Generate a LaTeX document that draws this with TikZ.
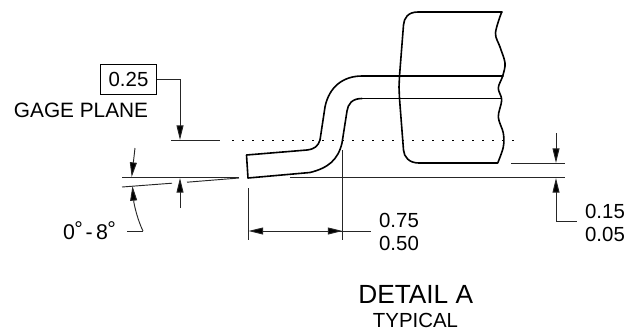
\documentclass[tikz,border=0pt]{standalone}
\usepackage{fontspec}
\setmainfont{Liberation Sans}
\usetikzlibrary{arrows.meta}
\tikzset{
  px/.style={x=0.75pt,y=-0.75pt},
  outline/.style={line width=1.2pt,line join=round,line cap=round,black},
  thin line/.style={line width=0.7pt,black!85},
  dim/.style={thin line,-{Triangle[length=11pt,width=5.2pt,fill=black]}},
  label/.style={inner sep=0pt,font=\fontsize{15.3pt}{15.3pt}\selectfont,text=black}
}
\newcommand{\degmark}{\kern-0.03em\raisebox{0.13em}{°}\kern-0.03em}
\begin{document}
\begin{tikzpicture}[px]
\useasboundingbox (0,0) rectangle (635,333);
% labels
\node[label,draw=black,line width=0.6pt,minimum width=42pt,minimum height=22.5pt] (box) at (128.5,79.5) {0.25};
\node[label,font=\fontsize{15.6pt}{15.6pt}\selectfont] (gage) at (81,110) {GAGE PLANE};
\node[label,font=\fontsize{16pt}{16pt}\selectfont,anchor=east] (angle) at (115.5,231) {0\degmark\kern0.16em-\kern0.16em8\degmark};
\node[label] (d75) at (399,220) {0.75};
\node[label] (d50) at (399,243) {0.50};
\node[label] (d15) at (605,211) {0.15};
\node[label] (d05) at (605,234) {0.05};
\node[label,font=\fontsize{19.7pt}{19.7pt}\selectfont] (detail) at (415.7,294.5) {DETAIL A};
\node[label] (typical) at (415.5,320.5) {TYPICAL};
% named points
\coordinate (gageL) at (171,140);
\coordinate (gageR) at (220,140);
\coordinate (gageTip) at (180,140);
\coordinate (gageElbow) at (180,79);
\coordinate (gageStart) at (157,79);
\coordinate (h1L) at (122,177.5);
\coordinate (h1R) at (239,177.5);
\coordinate (h2L) at (290,177.5);
\coordinate (h2R) at (565,177.5);
\coordinate (h3L) at (511,163);
\coordinate (h3R) at (565,163);
% gage plane
\draw[thin line] (box.east |- gageStart) -- (gageElbow);
\draw[dim] (gageElbow) -- (gageTip);
\draw[thin line] (gageL) -- (gageR);
\draw[line width=0.6pt,dash pattern=on 1.2pt off 6.3pt] (232,140) -- (516,140);
% angle
\draw[thin line] (h1L) -- (h1R);
\draw[thin line] (122,187) -- (172,183.2);
\draw[thin line] (187,182.2) -- (239,178);
\draw[dim] (135,148) -- (131.7,177);
\draw[dim] (143,231) .. controls (138,221) and (134,205) .. (132.5,186);
\draw[thin line] (143,231) -- (127,231);
\draw[dim] (180,208) -- (180,178);
% lead
\draw[outline] (320,140) -- (325,107) .. controls (329,87) and (343,76) .. (362,76) -- (503,76);
\draw[outline] (362,98.5) -- (501,98.5);
\draw[outline] (362,98.5) .. controls (352,98.5) and (348,104) .. (347,111) -- (342,143) .. controls (338,160) and (328,168) .. (310,172.5) -- (248,178) -- (246.5,155) -- (307,150) .. controls (315,149) and (318,146) .. (320,140);
% body
\draw[outline] (502,12) -- (418,12) .. controls (408,12) and (404,18) .. (403.5,25) -- (399.5,76) -- (399,87) -- (399.5,98.5) -- (403.5,150) .. controls (404,157) and (409,163) .. (419,163) -- (497.5,163);
\draw[outline] plot[smooth,tension=0.55] coordinates {(501.7,12)(495.5,33)(500,47)(505,63)(502.7,76)(498.3,88)(501.7,100)(498.3,117)(503.3,133)(503.3,147)(497.7,163)};
% right dim
\draw[thin line] (h3L) -- (h3R);
\draw[thin line] (h2L) -- (h2R);
\draw[dim] (556,133) -- (556,163);
\draw[dim] (556,221) -- (556,178);
\draw[thin line] (556,221) -- (577,221);
% width dim
\coordinate (vL) at (248,188);
\coordinate (vM) at (342.5,150);
\draw[thin line] (vL) -- (248,240);
\draw[thin line] (vM) -- (342.5,240);
\draw[thin line] (290,231) -- (371,231);
\draw[dim] (290,231) -- (248.5,231);
\draw[dim] (300,231) -- (342.5,231);
\end{tikzpicture}
\end{document}
